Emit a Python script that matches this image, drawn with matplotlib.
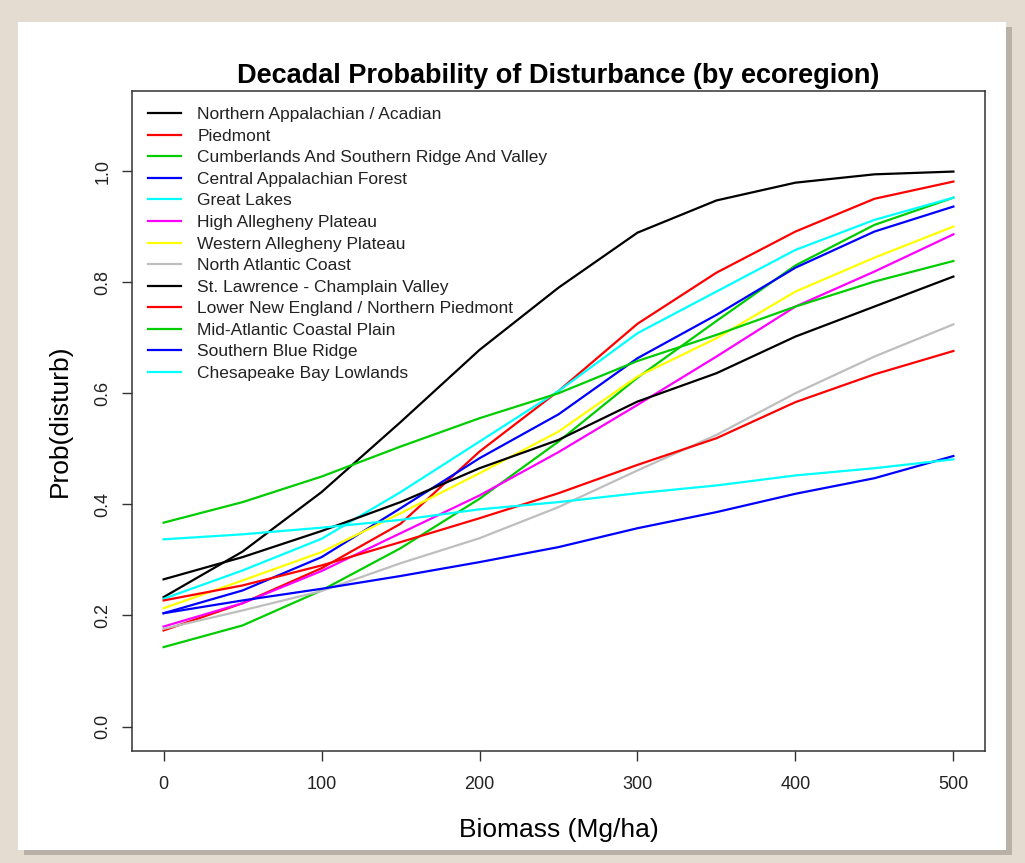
import matplotlib.pyplot as plt
from matplotlib.patches import Rectangle

# values, every 50 Mg/ha
biomass = [0, 50, 100, 150, 200, 250, 300, 350, 400, 450, 500]

northern_appalachian = [0.233, 0.315, 0.422, 0.548, 0.678, 0.790, 0.889, 0.947, 0.979, 0.994, 0.999]
piedmont = [0.173, 0.222, 0.285, 0.365, 0.495, 0.604, 0.725, 0.817, 0.891, 0.950, 0.981]
cumberlands = [0.143, 0.182, 0.245, 0.321, 0.410, 0.513, 0.628, 0.730, 0.830, 0.903, 0.952]
central_appalachian = [0.204, 0.245, 0.305, 0.393, 0.483, 0.562, 0.663, 0.741, 0.826, 0.891, 0.936]
great_lakes = [0.230, 0.281, 0.338, 0.422, 0.513, 0.604, 0.708, 0.783, 0.858, 0.912, 0.952]
high_allegheny = [0.180, 0.222, 0.280, 0.348, 0.416, 0.494, 0.579, 0.666, 0.756, 0.819, 0.886]
western_allegheny = [0.213, 0.263, 0.314, 0.384, 0.456, 0.531, 0.630, 0.699, 0.783, 0.844, 0.900]
north_atlantic = [0.176, 0.209, 0.244, 0.294, 0.339, 0.395, 0.461, 0.525, 0.600, 0.666, 0.724]
st_lawrence = [0.265, 0.305, 0.352, 0.404, 0.465, 0.516, 0.585, 0.636, 0.702, 0.756, 0.810]
lower_new_england = [0.227, 0.254, 0.290, 0.332, 0.375, 0.420, 0.471, 0.519, 0.584, 0.634, 0.676]
mid_atlantic = [0.367, 0.404, 0.450, 0.504, 0.555, 0.600, 0.658, 0.705, 0.756, 0.801, 0.838]
southern_blue_ridge = [0.204, 0.227, 0.248, 0.271, 0.296, 0.323, 0.357, 0.386, 0.419, 0.447, 0.487]
chesapeake = [0.337, 0.346, 0.358, 0.372, 0.391, 0.404, 0.420, 0.434, 0.452, 0.465, 0.481]

names = ['Northern Appalachian / Acadian', 'Piedmont',
         'Cumberlands And Southern Ridge And Valley', 'Central Appalachian Forest',
         'Great Lakes', 'High Allegheny Plateau', 'Western Allegheny Plateau',
         'North Atlantic Coast', 'St. Lawrence - Champlain Valley',
         'Lower New England / Northern Piedmont', 'Mid-Atlantic Coastal Plain',
         'Southern Blue Ridge', 'Chesapeake Bay Lowlands']
series = [northern_appalachian, piedmont, cumberlands, central_appalachian,
          great_lakes, high_allegheny, western_allegheny, north_atlantic,
          st_lawrence, lower_new_england, mid_atlantic, southern_blue_ridge,
          chesapeake]
# old R default palette, recycled after 8
colors = ['#000000', '#FF0000', '#00CD00', '#0000FF', '#00FFFF', '#FF00FF',
          '#FFFF00', '#BEBEBE', '#000000', '#FF0000', '#00CD00', '#0000FF', '#00FFFF']

plt.rcParams['font.family'] = ['Liberation Sans', 'DejaVu Sans']

W, H = 1025, 863
fig = plt.figure(figsize=(W / 100, H / 100), dpi=100, facecolor='#e4dcd0')

# white slide panel with a soft shadow (behind the axes)
fig.patches.append(Rectangle((24 / W, 1 - 855 / H), 988 / W, 828 / H,
                             transform=fig.transFigure, facecolor='#b9b1a7',
                             edgecolor='none', zorder=-2))
fig.patches.append(Rectangle((18 / W, 1 - 850 / H), 988 / W, 828 / H,
                             transform=fig.transFigure, facecolor='white',
                             edgecolor='none', zorder=-1))

ax = fig.add_axes([132 / W, 1 - 751 / H, (985 - 132) / W, (751 - 91) / H])
ax.set_facecolor('white')

for name, vals, col in zip(names, series, colors):
    ax.plot(biomass, vals, color=col, lw=1.6, label=name)

ax.set_xlim(-20, 520)
ax.set_ylim(-0.044, 1.144)
ax.set_xticks([0, 100, 200, 300, 400, 500])
ax.set_yticks([0.0, 0.2, 0.4, 0.6, 0.8, 1.0])
ax.set_yticklabels(['0.0', '0.2', '0.4', '0.6', '0.8', '1.0'])

for s in ax.spines.values():
    s.set_color('#333333')
    s.set_linewidth(1.1)
ax.tick_params(length=7, width=1.0, color='#333333', labelsize=13, labelcolor='#222222')
ax.tick_params(axis='x', pad=11)
ax.tick_params(axis='y', pad=8, labelrotation=90)
for lab in ax.get_yticklabels():
    lab.set_va('center')

ax.set_title('Decadal Probability of Disturbance (by ecoregion)',
             fontsize=19.5, fontweight='bold', pad=6)
ax.set_xlabel('Biomass (Mg/ha)', fontsize=19, labelpad=18)
ax.set_ylabel('Prob(disturb)', fontsize=19, labelpad=16)

leg = ax.legend(loc='upper left', bbox_to_anchor=(148 / W, 1 - 107 / H),
                bbox_transform=fig.transFigure, frameon=False, fontsize=12.5,
                handlelength=1.9, handletextpad=0.95, labelspacing=0.37,
                borderpad=0, borderaxespad=0)
for t in leg.get_texts():
    t.set_color('#222222')

fig.savefig('out.png', dpi=100, facecolor=fig.get_facecolor())
